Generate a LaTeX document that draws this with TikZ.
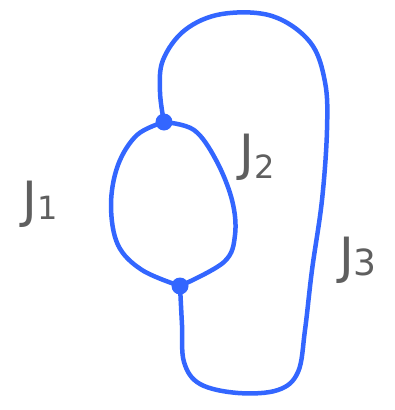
\documentclass[tikz,border=0pt]{standalone}
\usepackage{fontspec}
\setmainfont{DejaVu Sans}
\usetikzlibrary{positioning}
\definecolor{PenBlue}{HTML}{3366FF}
\definecolor{PenGray}{HTML}{5F5F5F}

\begin{document}
\begin{tikzpicture}[x=1pt,y=-1pt,
    wire/.style={PenBlue,line width=4.5pt,line cap=round,line join=round},
    junction/.style={circle,fill=PenBlue,inner sep=0pt,minimum size=17pt},
    tag/.style={PenGray,font=\fontsize{50}{50}\selectfont}]
  \useasboundingbox (0,0) rectangle (394,410);
  % the two junction points
  \node[junction] (top) at (164,122) {};
  \node[junction] (bot) at (180,286) {};
  % left arc (J1)
  \draw[wire] plot[smooth,tension=0.6] coordinates {(top.center) (137,135) (118,165) (111,205) (118,245) (142,270) (bot.center)};
  % right arc (J2)
  \draw[wire] plot[smooth,tension=0.6] coordinates {(top.center) (194,130) (216,160) (232,200) (235,235) (224,262) (bot.center)};
  % outer loop (J3)
  \draw[wire] plot[smooth,tension=0.6] coordinates {(top.center) (160,92) (163,60) (185,30) (222,14) (272,16) (310,42) (325,82) (327,130) (322,200) (312,270) (305,330) (298,372) (278,390) (238,393) (200,384) (184,362) (182,325) (bot.center)};
  % labels
  \node[tag] (jone) at (40,204) {J\raisebox{-2pt}{\fontsize{32}{32}\selectfont1}};
  \node[tag] (jtwo) at (257,157) {J\raisebox{-8pt}{\fontsize{32}{32}\selectfont2}};
  \node[tag] (jthree) at (358,260) {J\raisebox{-2pt}{\fontsize{36}{36}\selectfont3}};
\end{tikzpicture}
\end{document}
